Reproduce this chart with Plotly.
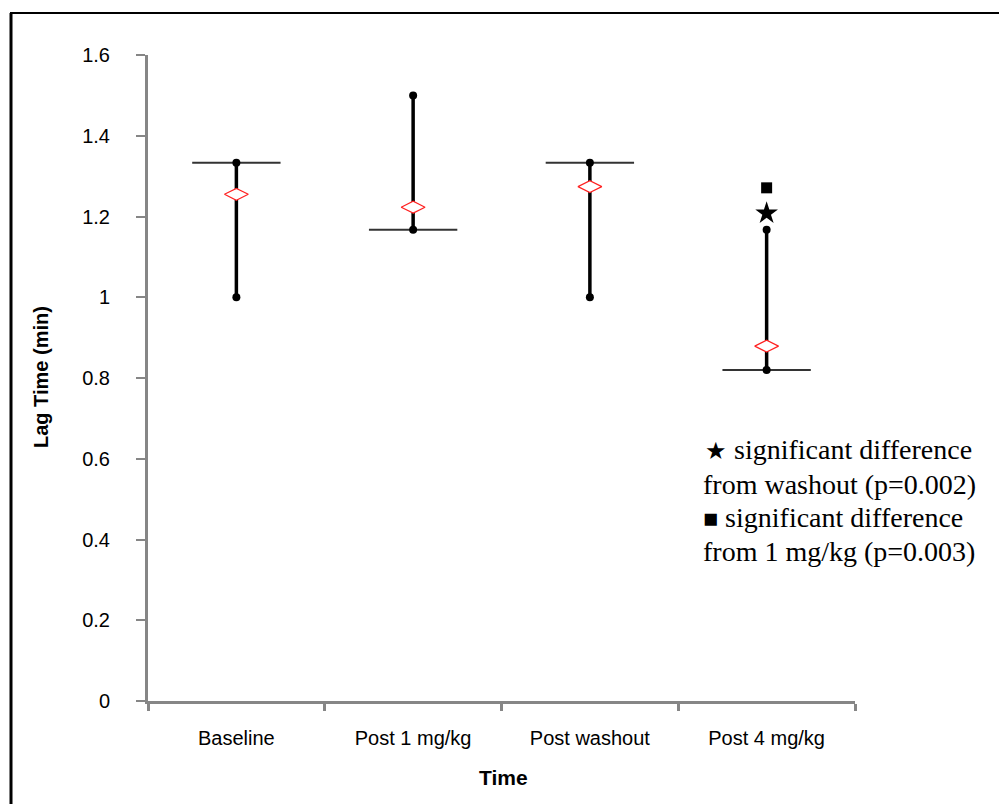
import plotly.graph_objects as go

# ---- data ----
categories = ["Baseline", "Post 1 mg/kg", "Post washout", "Post 4 mg/kg"]
high_vals = [1.333, 1.5, 1.333, 1.167]
low_vals = [1.0, 1.167, 1.0, 0.82]
close_vals = [1.333, 1.167, 1.333, 0.82]
mean_vals = [1.255, 1.223, 1.274, 0.879]
star_cat = 3
star_y = 1.208
square_cat = 3
square_y = 1.271
y_ticks = [0, 0.2, 0.4, 0.6, 0.8, 1, 1.2, 1.4, 1.6]

xs = list(range(len(categories)))

fig = go.Figure()

# vertical high-low lines
vx, vy = [], []
for i, lo, hi in zip(xs, low_vals, high_vals):
    vx += [i, i, None]
    vy += [lo, hi, None]
fig.add_trace(go.Scatter(x=vx, y=vy, mode="lines",
                         line=dict(color="black", width=3.5), hoverinfo="skip"))

# horizontal "close" bars
hx, hy = [], []
for i, c in zip(xs, close_vals):
    hx += [i - 0.25, i + 0.25, None]
    hy += [c, c, None]
fig.add_trace(go.Scatter(x=hx, y=hy, mode="lines",
                         line=dict(color="#333333", width=2), hoverinfo="skip"))

# end markers
fig.add_trace(go.Scatter(x=xs + xs, y=high_vals + low_vals, mode="markers",
                         marker=dict(symbol="circle", size=8, color="black")))

# mean diamonds
fig.add_trace(go.Scatter(x=xs, y=mean_vals, mode="markers",
                         marker=dict(symbol="diamond-wide", size=17, color="white",
                                     line=dict(color="#ff2020", width=1.2))))

# significance markers
fig.add_trace(go.Scatter(x=[star_cat], y=[star_y], mode="markers",
                         marker=dict(symbol="star", size=17, color="black")))
fig.add_trace(go.Scatter(x=[square_cat], y=[square_y], mode="markers",
                         marker=dict(symbol="square", size=11, color="black")))

# pixel -> data helpers for layout placement
def dx(px):
    return (px - 236) / 176.75

def dy(py):
    return (701 - py) / 403.75

note_lines = [
    ('<span style="font-size:24px">★</span> significant difference', 449, 703),
    ("from washout (p=0.002)", 484, 701),
    ('<span style="font-size:25px">■</span> significant difference', 517, 701),
    ("from 1 mg/kg (p=0.003)", 551, 701),
]
for txt, py, px in note_lines:
    fig.add_annotation(x=dx(px), y=dy(py), xref="x", yref="y", text=txt,
                       showarrow=False, xanchor="left", yanchor="middle",
                       font=dict(family="Liberation Serif, Times New Roman, serif",
                                 size=28, color="black"))

# axis titles
fig.add_annotation(x=(41 - 148) / 707, y=(701 - 377) / 646, xref="paper", yref="paper",
                   text="<b>Lag Time (min)</b>", textangle=-90, showarrow=False,
                   xanchor="center", yanchor="middle",
                   font=dict(family="Liberation Sans, Arial, sans-serif", size=20, color="black"))
fig.add_annotation(x=(503 - 148) / 707, y=(701 - 777) / 646, xref="paper", yref="paper",
                   text="<b>Time</b>", showarrow=False,
                   xanchor="center", yanchor="middle",
                   font=dict(family="Liberation Sans, Arial, sans-serif", size=21, color="black"))

# frame (left and top borders)
fig.add_shape(type="line", xref="paper", yref="paper",
              x0=(11 - 148) / 707, x1=(11 - 148) / 707,
              y0=(701 - 13) / 646, y1=(701 - 810) / 646,
              line=dict(color="black", width=3))
fig.add_shape(type="line", xref="paper", yref="paper",
              x0=(10 - 148) / 707, x1=(1005 - 148) / 707,
              y0=(701 - 13) / 646, y1=(701 - 13) / 646,
              line=dict(color="black", width=2))

axis_gray = "#868686"
fig.update_layout(
    width=999, height=804,
    margin=dict(l=148, r=144, t=55, b=103),
    paper_bgcolor="white", plot_bgcolor="white",
    showlegend=False,
    font=dict(family="Liberation Sans, Arial, sans-serif", size=20, color="black"),
    xaxis=dict(range=[-0.5, 3.5], tickmode="array", tickvals=xs, ticktext=categories,
               ticks="", showgrid=False, zeroline=False,
               showline=True, linecolor=axis_gray, linewidth=3,
               ticklabelstandoff=17,
               minor=dict(tickmode="array", tickvals=[-0.5, 0.5, 1.5, 2.5, 3.5],
                          ticks="outside", ticklen=7, tickwidth=3, tickcolor=axis_gray,
                          showgrid=False),
               tickfont=dict(size=20)),
    yaxis=dict(range=[0, 1.6], tickmode="array", tickvals=y_ticks,
               ticks="outside", ticklen=9, tickwidth=2, tickcolor=axis_gray,
               showgrid=False, zeroline=False,
               showline=True, linecolor=axis_gray, linewidth=3,
               ticklabelstandoff=22,
               tickfont=dict(size=20)),
)

fig.write_html("out.html")
